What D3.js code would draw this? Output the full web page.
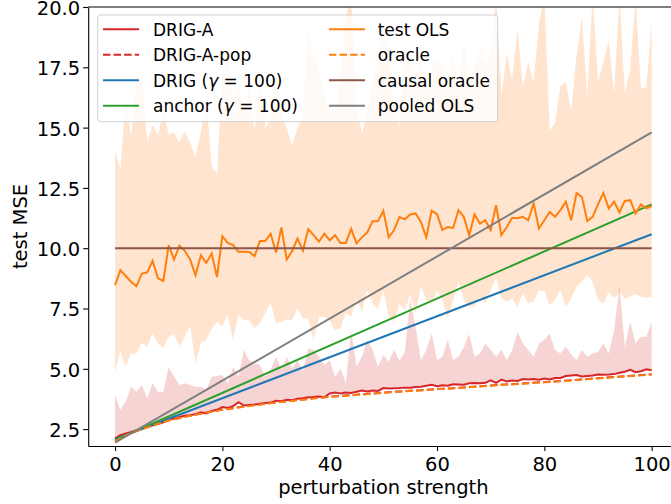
<!DOCTYPE html>
<html><head><meta charset="utf-8">
<script src="https://cdn.jsdelivr.net/npm/d3@7"></script>
<style>body{margin:0;background:#fff}svg{display:block}text{font-family:"DejaVu Sans",sans-serif}</style>
</head><body><svg id="c" width="671" height="504"></svg>
<script>
// ---- data ----
const xTicks = [0, 20, 40, 60, 80, 100];
const yTicks = [2.5, 5.0, 7.5, 10.0, 12.5, 15.0, 17.5, 20.0];
const strengths = d3.range(0, 101);

const testOLS = [8.47, 9.09, 8.85, 8.6, 8.43, 8.95, 9.0, 9.48, 8.75, 8.64,
 10.13, 9.53, 10.1, 9.89, 9.53, 8.88, 9.71, 9.39, 9.78, 8.81,
 10.5, 10.22, 10.13, 9.85, 9.85, 9.84, 9.67, 10.3, 10.3, 10.6,
 9.82, 10.86, 9.53, 9.88, 10.4, 9.9, 10.79, 10.54, 10.27, 10.6,
 10.33, 10.54, 10.22, 10.22, 10.80, 10.20, 10.45, 10.65, 11.12, 11.12,
 11.55, 10.45, 10.75, 11.29, 11.2, 11.4, 11.44, 11.09, 10.45, 11.56,
 11.41, 10.75, 10.88, 10.84, 11.58, 11.3, 10.54, 11.4, 11.02, 11.16,
 10.75, 11.78, 10.54, 10.88, 11.26, 11.24, 11.3, 11.16, 11.86, 10.82,
 11.16, 11.5, 11.3, 11.58, 11.93, 11.16, 12.29, 12.13, 11.13, 11.3,
 11.82, 12.29, 11.65, 11.93, 11.48, 11.96, 11.99, 11.44, 11.81, 11.65, 11.75];

const testOLSUpper = [14.0, 13.3, 16.3, 14.6, 17.0, 17.1, 14.4, 15.1, 14.7, 15.7,
 14.7, 14.8, 14.4, 14.85, 14.35, 13.8, 14.8, 16.3, 13.4, 13.1,
 17.4, 17.8, 16.1, 16.7, 15.85, 16.75, 14.85, 17.4, 15.0, 15.3,
 17.65, 15.5, 15.0, 14.25, 15.0, 15.4, 19.3, 18.0, 17.4, 16.3,
 15.7, 15.5, 17.0, 19.6, 20.5, 15.85, 14.8, 15.6, 16.9, 17.6,
 19.5, 18.0, 16.0, 15.0, 18.6, 17.6, 17.2, 17.8, 16.3, 17.6,
 17.8, 17.5, 16.9, 18.2, 16.5, 18.8, 16.6, 17.5, 18.3, 17.7,
 18.0, 20.5, 16.3, 18.1, 17.0, 19.1, 16.7, 17.7, 16.9, 19.3,
 20.5, 14.85, 15.2, 16.75, 16.9, 15.7, 18.0, 19.6, 16.3, 20.5,
 16.9, 17.7, 18.6, 16.4, 20.5, 16.4, 17.4, 20.4, 16.6, 16.7, 19.4];

const testOLSLower = [4.88, 5.71, 5.09, 5.64, 5.64, 6.08, 5.89, 6.47, 6.03, 5.89,
 6.33, 6.43, 5.94, 6.33, 6.77, 5.22, 6.08, 6.19, 6.67, 6.95,
 6.74, 7.23, 6.19, 7.23, 7.02, 7.0, 6.68, 6.89, 7.3, 7.74,
 6.87, 6.95, 7.02, 7.02, 7.5, 7.09, 7.09, 6.16, 7.16, 7.16,
 7.02, 6.6, 6.68, 7.3, 7.16, 7.92, 7.36, 8.26, 7.71, 7.5,
 8.26, 7.16, 6.95, 7.71, 7.43, 8.05, 7.3, 8.4, 7.85, 7.71,
 8.26, 7.85, 7.09, 7.85, 8.61, 7.85, 7.57, 7.57, 7.98, 7.71,
 8.26, 8.75, 7.92, 7.78, 7.92, 7.57, 8.12, 7.71, 7.78, 8.26,
 8.19, 7.64, 7.85, 8.26, 7.57, 7.92, 8.4, 8.61, 8.88, 8.6,
 7.85, 7.71, 8.19, 7.92, 8.19, 7.9, 8.0, 8.1, 7.98, 7.95, 7.98];

const drigA = [2.12, 2.25, 2.32, 2.38, 2.45, 2.55, 2.62, 2.65, 2.72, 2.78,
 2.92, 2.93, 3.0, 3.05, 3.08, 3.12, 3.2, 3.15, 3.25, 3.3,
 3.42, 3.38, 3.45, 3.62, 3.48, 3.5, 3.52, 3.55, 3.58, 3.6,
 3.68, 3.66, 3.72, 3.7, 3.76, 3.78, 3.82, 3.83, 3.85, 3.82,
 3.98, 4.02, 3.98, 4.02, 4.0, 4.05, 4.1, 4.06, 4.1, 4.08,
 4.2, 4.18, 4.19, 4.2, 4.22, 4.22, 4.25, 4.26, 4.3, 4.34,
 4.28, 4.32, 4.3, 4.36, 4.35, 4.34, 4.4, 4.41, 4.4, 4.42,
 4.52, 4.42, 4.55, 4.48, 4.52, 4.5, 4.58, 4.56, 4.58, 4.55,
 4.6, 4.56, 4.62, 4.62, 4.7, 4.72, 4.74, 4.68, 4.7, 4.72,
 4.76, 4.75, 4.76, 4.78, 4.84, 4.88, 4.96, 4.86, 4.9, 4.98, 4.94];

const drigAUpper = [3.91, 3.29, 3.64, 4.26, 4.05, 4.33, 3.78, 4.4, 4.05, 4.05,
 5.06, 4.67, 4.33, 4.4, 4.33, 4.26, 4.26, 4.12, 4.67, 4.70,
 4.74, 4.4, 5.08, 4.67, 5.78, 5.36, 5.22, 5.16, 4.67, 4.95,
 5.5, 4.95, 5.5, 5.02, 5.36, 4.88, 5.85, 5.78, 5.5, 5.16,
 5.36, 4.67, 5.02, 4.4, 6.6, 5.09, 5.5, 6.19, 5.78, 5.09,
 5.57, 5.29, 5.78, 5.36, 5.7, 7.92, 6.74, 5.36, 5.78, 6.45,
 5.36, 5.5, 6.19, 5.36, 5.5, 5.9, 6.45, 5.5, 5.64, 6.05,
 5.78, 5.5, 5.78, 5.36, 5.78, 6.53, 6.05, 5.78, 5.5, 6.05,
 6.2, 6.45, 5.78, 5.64, 5.91, 5.6, 5.36, 5.78, 5.5, 5.64,
 5.7, 6.05, 5.64, 6.6, 8.47, 5.91, 6.95, 6.05, 6.33, 6.33, 6.95];

const curveX = [0, 1, 2, 3, 5, 7, 10, 15, 20, 25, 30, 35, 40, 45, 50, 55, 60, 65, 70, 75, 80, 85, 90, 95, 100];
const oracle = [1.98, 2.12, 2.24, 2.34, 2.5, 2.64, 2.86, 3.1, 3.3, 3.46, 3.6, 3.72, 3.84, 3.92, 4.0, 4.08, 4.15, 4.22, 4.3, 4.37, 4.44, 4.52, 4.6, 4.68, 4.76];
const drigAPop = [1.99, 2.13, 2.25, 2.35, 2.51, 2.65, 2.87, 3.11, 3.31, 3.47, 3.61, 3.73, 3.85, 3.93, 4.01, 4.09, 4.16, 4.23, 4.31, 4.38, 4.45, 4.53, 4.61, 4.69, 4.77];

const lineX = [0, 100];
const drig = [2.08, 10.58];
const anchor = [2.05, 11.82];
const causalOracle = [10.0, 10.0];
const pooledOLS = [1.94, 14.8];

// ---- chart ----
const svg = d3.select("#c");
const L = 88.2, R = 678.5, T = 7, B = 446;
const x = d3.scaleLinear().domain([-5, 105]).range([L, R]);
const y = d3.scaleLinear().domain([1.8, 20]).range([B, T]);

svg.append("defs").append("clipPath").attr("id", "clip")
  .append("rect").attr("x", L).attr("y", T).attr("width", R - L).attr("height", B - T);
const g = svg.append("g").attr("clip-path", "url(#clip)");

const band = (lo, hi) => d3.area().x((d, i) => x(strengths[i])).y0((d, i) => y(lo[i])).y1((d, i) => y(hi[i]))(hi);
g.append("path").attr("d", band(testOLSLower, testOLSUpper)).attr("fill", "#ff7f0e").attr("fill-opacity", 0.2);
g.append("path").attr("d", band(drigA, drigAUpper)).attr("fill", "#d62728").attr("fill-opacity", 0.2);

const lineOf = (xs, ys) => d3.line().x((d, i) => x(xs[i])).y(d => y(d))(ys);
const series = [
  {xs: strengths, ys: drigA, color: "#d62728", dash: null},
  {xs: curveX, ys: drigAPop, color: "#d62728", dash: "7.4,3.2"},
  {xs: lineX, ys: drig, color: "#1f77b4", dash: null},
  {xs: lineX, ys: anchor, color: "#2ca02c", dash: null},
  {xs: strengths, ys: testOLS, color: "#ff7f0e", dash: null},
  {xs: curveX, ys: oracle, color: "#ff7f0e", dash: "7.4,3.2"},
  {xs: lineX, ys: causalOracle, color: "#8c564b", dash: null},
  {xs: lineX, ys: pooledOLS, color: "#7f7f7f", dash: null}
];
series.forEach(s => {
  g.append("path").attr("d", lineOf(s.xs, s.ys)).attr("fill", "none")
    .attr("stroke", s.color).attr("stroke-width", 2).attr("stroke-dasharray", s.dash);
});

// axes
const fs = 19.5;
const xAxis = svg.append("g").attr("transform", `translate(0,${B})`)
  .call(d3.axisBottom(x).tickValues(xTicks).tickSize(5).tickPadding(6).tickSizeOuter(0));
const yAxis = svg.append("g").attr("transform", `translate(${L},0)`)
  .call(d3.axisLeft(y).tickValues(yTicks).tickFormat(d3.format(".1f")).tickSize(5).tickPadding(3).tickSizeOuter(0));
[xAxis, yAxis].forEach(a => {
  a.selectAll("text").attr("font-size", fs).attr("fill", "#000").attr("font-family", "DejaVu Sans");
  a.selectAll("line").attr("stroke", "#000").attr("stroke-width", 1.1);
  a.select(".domain").attr("stroke", "#000").attr("stroke-width", 1.1);
});
yAxis.selectAll("text").attr("dy", "0.38em");
svg.append("line").attr("x1", L).attr("x2", R).attr("y1", T).attr("y2", T).attr("stroke", "#000").attr("stroke-width", 1.1);

svg.append("text").attr("x", (L + R) / 2).attr("y", 494).attr("text-anchor", "middle")
  .attr("font-size", fs).text("perturbation strength");
svg.append("text").attr("transform", `translate(27,${(T + B) / 2}) rotate(-90)`).attr("text-anchor", "middle")
  .attr("font-size", fs).text("test MSE");

// legend
const lg = svg.append("g");
lg.append("rect").attr("x", 97.7).attr("y", 15).attr("width", 400).attr("height", 106.7).attr("rx", 3)
  .attr("fill", "#fff").attr("fill-opacity", 0.8).attr("stroke", "#d0d0d0").attr("stroke-width", 1);
const legendItems = [
  {label: ["DRIG-A"], s: 0}, {label: ["DRIG-A-pop"], s: 1},
  {label: ["DRIG (", "γ", " = 100)"], s: 2}, {label: ["anchor (", "γ", " = 100)"], s: 3},
  {label: ["test OLS"], s: 4}, {label: ["oracle"], s: 5},
  {label: ["causal oracle"], s: 6}, {label: ["pooled OLS"], s: 7}
];
legendItems.forEach((it, i) => {
  const col = Math.floor(i / 4), row = i % 4;
  const hx = col === 0 ? 103 : 329, tx = col === 0 ? 153 : 377.7;
  const cy = 29.3 + row * 25.5;
  const s = series[it.s];
  lg.append("line").attr("x1", hx).attr("x2", hx + 36).attr("y1", cy).attr("y2", cy)
    .attr("stroke", s.color).attr("stroke-width", 2).attr("stroke-dasharray", s.dash);
  const t = lg.append("text").attr("x", tx).attr("y", cy + 6.2).attr("font-size", 17);
  it.label.forEach((p, k) => {
    const sp = t.append("tspan").text(p);
    if (p === "γ") sp.attr("font-style", "italic");
  });
});
</script></body></html>
